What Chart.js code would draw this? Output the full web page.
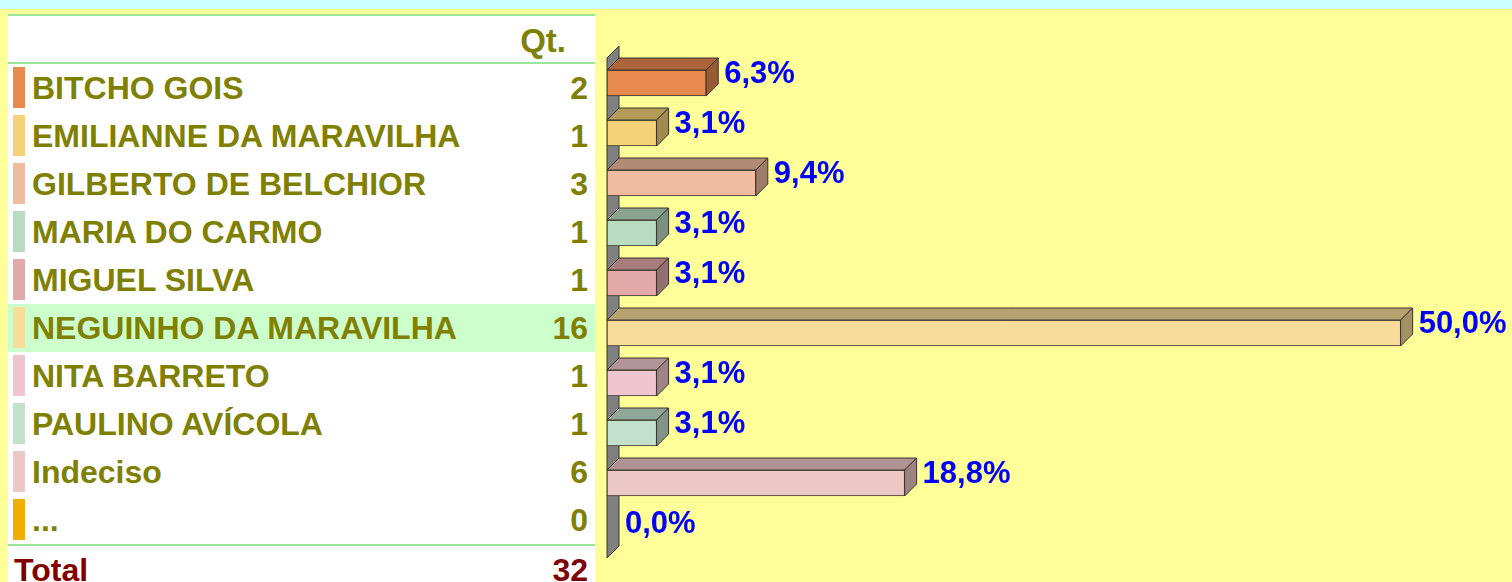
<!DOCTYPE html>
<html>
<head>
<meta charset="utf-8">
<script src="https://cdn.jsdelivr.net/npm/chart.js@4/dist/chart.umd.min.js"></script>
<style>
  html, body { margin: 0; padding: 0; }
  body {
    width: 1512px; height: 582px; overflow: hidden; position: relative;
    background: #ffff99;
    font-family: "Liberation Sans", Arial, sans-serif;
  }
  #topbar { position: absolute; left: 0; top: 0; width: 1512px; height: 9px; background: #ccffff; }
  #panel {
    position: absolute; left: 8px; top: 14px; width: 587px; height: 580px;
    background: #fff; border-top: 2px solid #99e699;
  }
  .row { position: relative; height: 48px; line-height: 48px; font-weight: bold; font-size: 32px; color: #808000; }
  .row.head { height: 46px; line-height: 50px; border-bottom: 2px solid #99e699; }
  .row.head .qt { position: absolute; right: 29px; top: 0; font-size: 33px; }
  .row.hi { background: #ccffcc; }
  .sw { position: absolute; left: 5px; top: 3px; width: 12px; height: 41px; }
  .name { position: absolute; left: 24px; top: 0; white-space: nowrap; }
  .num { position: absolute; right: 7px; top: 0; }
  .row.total { border-top: 2px solid #99e699; color: #800000; }
  .row.total .name { left: 6px; }
  #chartbox { position: absolute; left: 596px; top: 0; width: 916px; height: 582px; }
</style>
</head>
<body>
<div id="topbar"></div>
<div id="panel"></div>
<div id="chartbox"><canvas id="bars" width="916" height="582"></canvas></div>
<script>
// candidatos e votos
var candidates = ['BITCHO GOIS', 'EMILIANNE DA MARAVILHA', 'GILBERTO DE BELCHIOR', 'MARIA DO CARMO',
  'MIGUEL SILVA', 'NEGUINHO DA MARAVILHA', 'NITA BARRETO', 'PAULINO AVÍCOLA', 'Indeciso', '...'];
var votes = [2, 1, 3, 1, 1, 16, 1, 1, 6, 0];
var barColors = ['#e8894f', '#f5d278', '#f0bca0', '#b9dcc0', '#e2a9a9',
  '#f7dc9a', '#efc6d0', '#c2e0cc', '#ecc8c6', '#f2ae00'];
var headerLabel = 'Qt.';
var totalLabel = 'Total';

var total = votes.reduce(function(a, b) { return a + b; }, 0);
var percents = votes.map(function(v) { return total ? v / total * 100 : 0; });
var leader = votes.indexOf(Math.max.apply(null, votes));

// tabela da esquerda
var panel = document.getElementById('panel');
var html = '<div class="row head"><span class="qt">' + headerLabel + '</span></div>';
candidates.forEach(function(name, i) {
  html += '<div class="row' + (i === leader ? ' hi' : '') + '">' +
    '<span class="sw" style="background:' + barColors[i] + '"></span>' +
    '<span class="name">' + name + '</span>' +
    '<span class="num">' + votes[i] + '</span></div>';
});
html += '<div class="row total"><span class="name">' + totalLabel + '</span><span class="num">' + total + '</span></div>';
panel.innerHTML = html;

function shade(hex, f) {
  var n = parseInt(hex.slice(1), 16);
  var r = Math.round(((n >> 16) & 255) * f), g = Math.round(((n >> 8) & 255) * f), b = Math.round((n & 255) * f);
  return 'rgb(' + r + ',' + g + ',' + b + ')';
}

var DEPTH = 12;

// parede cinza + faces de topo/lado + rótulos
var bars3d = {
  id: 'bars3d',
  beforeDatasetsDraw: function(chart) {
    var ctx = chart.ctx, a = chart.chartArea;
    var x0 = chart.scales.x.getPixelForValue(0);
    ctx.save();
    ctx.beginPath();
    ctx.moveTo(x0, a.top);
    ctx.lineTo(x0 + DEPTH, a.top - DEPTH);
    ctx.lineTo(x0 + DEPTH, a.bottom - DEPTH);
    ctx.lineTo(x0, a.bottom);
    ctx.closePath();
    ctx.fillStyle = '#808080';
    ctx.fill();
    ctx.strokeStyle = '#333';
    ctx.lineWidth = 1;
    ctx.stroke();
    ctx.restore();
  },
  afterDatasetsDraw: function(chart) {
    var ctx = chart.ctx;
    var meta = chart.getDatasetMeta(0);
    ctx.save();
    ctx.lineWidth = 1;
    ctx.strokeStyle = '#3a3428';
    meta.data.forEach(function(el, i) {
      var top = el.y - el.height / 2, bot = el.y + el.height / 2;
      var l = el.base, r = el.x;
      if (r - l > 0.5) {
        // topo
        ctx.beginPath();
        ctx.moveTo(l, top);
        ctx.lineTo(l + DEPTH, top - DEPTH);
        ctx.lineTo(r + DEPTH, top - DEPTH);
        ctx.lineTo(r, top);
        ctx.closePath();
        ctx.fillStyle = shade(barColors[i], 0.74);
        ctx.fill();
        ctx.stroke();
        // lado
        ctx.beginPath();
        ctx.moveTo(r, top);
        ctx.lineTo(r + DEPTH, top - DEPTH);
        ctx.lineTo(r + DEPTH, bot - DEPTH);
        ctx.lineTo(r, bot);
        ctx.closePath();
        ctx.fillStyle = shade(barColors[i], 0.66);
        ctx.fill();
        ctx.stroke();
      }
      ctx.fillStyle = '#0000ff';
      ctx.font = 'bold 31px "Liberation Sans", Arial, sans-serif';
      ctx.textBaseline = 'middle';
      ctx.textAlign = 'left';
      ctx.fillText(percents[i].toFixed(1).replace('.', ',') + '%', r + DEPTH + 6, el.y - 9);
    });
    ctx.restore();
  }
};

new Chart(document.getElementById('bars').getContext('2d'), {
  type: 'bar',
  data: {
    labels: candidates,
    datasets: [{
      data: percents,
      backgroundColor: barColors,
      borderColor: '#3a3428',
      borderWidth: 1,
      borderSkipped: false,
      barThickness: 26
    }]
  },
  options: {
    indexAxis: 'y',
    responsive: false,
    animation: false,
    layout: { padding: { left: 11, right: 32, top: 58, bottom: 24 } },
    scales: {
      x: { display: false, min: 0, max: 55 },
      y: { display: false }
    },
    plugins: {
      legend: { display: false },
      tooltip: { enabled: false }
    }
  },
  plugins: [bars3d]
});
</script>
</body>
</html>
